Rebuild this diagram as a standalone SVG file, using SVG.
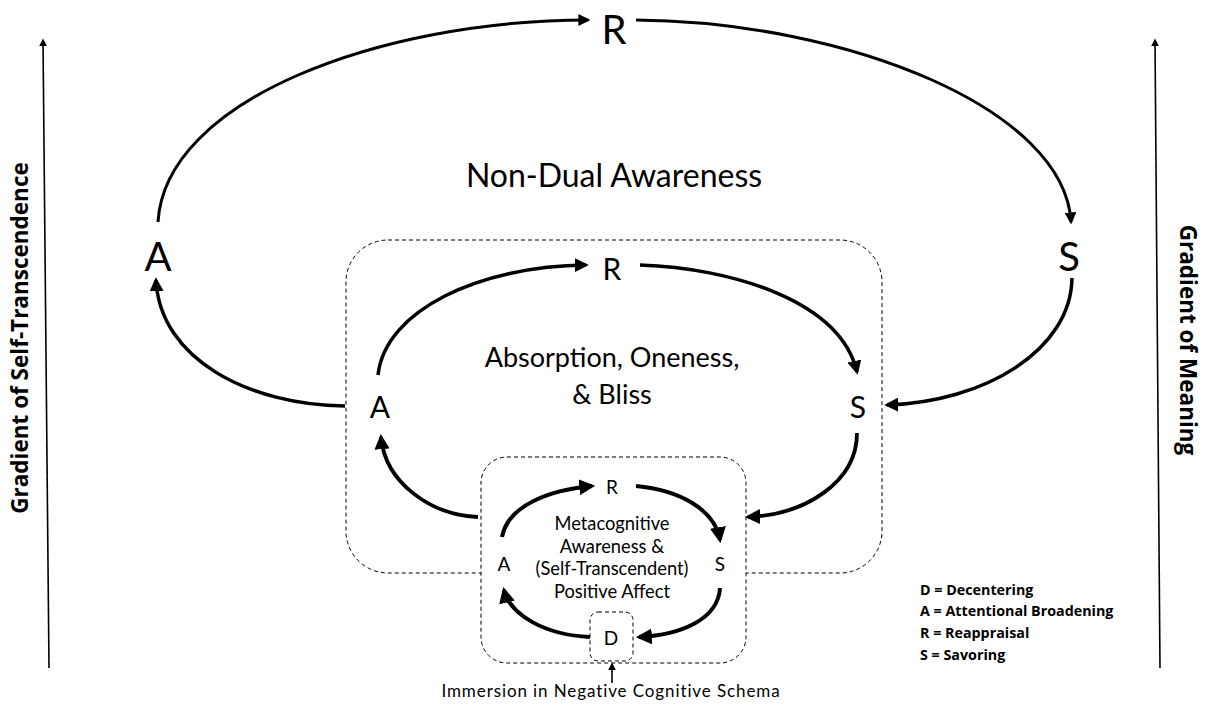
<svg xmlns="http://www.w3.org/2000/svg" width="1208" height="705" viewBox="0 0 1208 705">
<style>
.lbl{font-family:Lato,"Open Sans","Liberation Sans",sans-serif;fill:#000;text-anchor:middle}
.leg{font-family:"Open Sans","Liberation Sans",sans-serif;font-weight:bold;font-size:14.3px;fill:#000}
.ax{font-family:"Open Sans","Liberation Sans",sans-serif;font-weight:bold;font-size:22.5px;fill:#000;text-anchor:middle}
.box{fill:#fff;stroke:#000;stroke-width:1;stroke-dasharray:4 3}
.arc{fill:none;stroke:#000;stroke-linecap:butt}
.axis{fill:none;stroke:#000;stroke-width:1.6}
</style>
<defs>
<marker id="ah" viewBox="0 0 10 10" refX="8" refY="5" markerWidth="4" markerHeight="4" orient="auto" markerUnits="strokeWidth">
<path d="M0,0 L10,5 L0,10 z" fill="#000"/>
</marker>
<marker id="ahs" viewBox="0 0 10 10" refX="8" refY="5" markerWidth="5" markerHeight="5" orient="auto" markerUnits="strokeWidth">
<path d="M0,0 L10,5 L0,10 z" fill="#000"/>
</marker>
</defs>
<rect width="1208" height="705" fill="#fff"/>

<g id="middle-box"><rect class="box" x="346" y="240" width="536" height="333" rx="42" ry="42"/></g>
<g id="inner-box"><rect class="box" x="481" y="457" width="265" height="206" rx="26" ry="26"/></g>
<g id="d-box"><rect class="box" x="590" y="612" width="43" height="49" rx="8" ry="8"/></g>

<g id="connectors">
<path class="arc" stroke-width="3" marker-end="url(#ah)" d="M158,222 C165,100 380,20 588,20"/>
<path class="arc" stroke-width="3" marker-end="url(#ah)" d="M636,20 C850,22 1065,110 1071,222"/>
<path class="arc" stroke-width="3.5" marker-end="url(#ah)" d="M1072,278 C1071,350 985,402 887,405"/>
<path class="arc" stroke-width="3.5" marker-end="url(#ah)" d="M345,406 C250,405 160,360 156,280"/>
<path class="arc" stroke-width="3.5" marker-end="url(#ah)" d="M378,375 C385,310 480,266 586,265"/>
<path class="arc" stroke-width="3.5" marker-end="url(#ah)" d="M640,265 C730,268 840,300 857,372"/>
<path class="arc" stroke-width="3.8" marker-end="url(#ah)" d="M478,517 C430,515 385,482 381,437"/>
<path class="arc" stroke-width="3.8" marker-end="url(#ah)" d="M857,433 C857,482 805,515 748,517"/>
<path class="arc" stroke-width="4" marker-end="url(#ah)" d="M502,537 C508,505 550,490 592,486"/>
<path class="arc" stroke-width="4" marker-end="url(#ah)" d="M636,486 C680,490 715,510 720,540"/>
<path class="arc" stroke-width="4" marker-end="url(#ah)" d="M720,588 C718,620 680,635 639,637"/>
<path class="arc" stroke-width="4" marker-end="url(#ah)" d="M590,637 C545,635 510,615 504,590"/>
<path class="arc" stroke-width="1.6" marker-end="url(#ahs)" d="M612,683 L612,664"/>
<path class="axis" marker-end="url(#ahs)" d="M49,668 L43,40"/>
<path class="axis" marker-end="url(#ahs)" d="M1160,668 L1155,40"/>
</g>

<g id="outer-R"><text class="lbl" x="614" y="44" font-size="40">R</text></g>
<g id="outer-A"><text class="lbl" x="158" y="271" font-size="40">A</text></g>
<g id="outer-S"><text class="lbl" x="1069" y="271" font-size="40">S</text></g>
<g id="outer-title"><text class="lbl" x="614" y="187" font-size="32">Non-Dual Awareness</text></g>

<g id="middle-R"><text class="lbl" x="612" y="280" font-size="30">R</text></g>
<g id="middle-A"><text class="lbl" x="380" y="418" font-size="30">A</text></g>
<g id="middle-S"><text class="lbl" x="858" y="418" font-size="30">S</text></g>
<g id="middle-title"><text class="lbl" font-size="27"><tspan x="612" y="367">Absorption, Oneness,</tspan><tspan x="612" y="404">&amp; Bliss</tspan></text></g>

<g id="inner-R"><text class="lbl" x="612" y="494" font-size="19">R</text></g>
<g id="inner-A"><text class="lbl" x="504" y="571" font-size="19">A</text></g>
<g id="inner-S"><text class="lbl" x="720" y="571" font-size="19">S</text></g>
<g id="inner-D"><text class="lbl" x="611" y="645" font-size="19">D</text></g>
<g id="inner-title"><text class="lbl" font-size="18.3"><tspan x="612" y="530">Metacognitive</tspan><tspan x="612" y="553">Awareness &amp;</tspan><tspan x="612" y="575">(Self-Transcendent)</tspan><tspan x="612" y="598">Positive Affect</tspan></text></g>

<g id="bottom-label"><text class="lbl" x="611" y="697" font-size="17" letter-spacing="0.9">Immersion in Negative Cognitive Schema</text></g>

<g id="legend">
<text class="leg" x="920" y="595">D = Decentering</text>
<text class="leg" x="920" y="616">A = Attentional Broadening</text>
<text class="leg" x="920" y="638">R = Reappraisal</text>
<text class="leg" x="920" y="660">S = Savoring</text>
</g>

<g id="axis-left-label"><text class="ax" transform="translate(28,338) rotate(-90)">Gradient of  Self-Transcendence</text></g>
<g id="axis-right-label"><text class="ax" transform="translate(1180,340) rotate(90)">Gradient of Meaning</text></g>
</svg>
